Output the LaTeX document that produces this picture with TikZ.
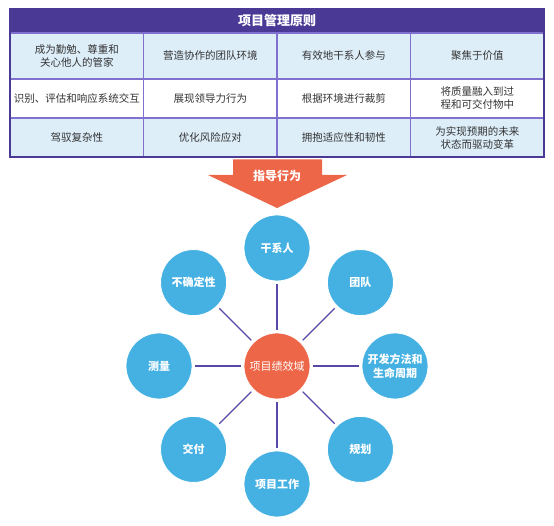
\documentclass[tikz,border=0pt]{standalone}
\usepackage{fontspec}
\setmainfont{Noto Sans CJK SC}
\usepackage{tikz}
\usetikzlibrary{positioning,fit,backgrounds,calc}
\usepackage{xcolor}
\definecolor{headpurple}{RGB}{74,58,150}
\definecolor{gridpurple}{RGB}{128,112,208}
\definecolor{cellblue}{RGB}{221,238,249}
\definecolor{guideorange}{RGB}{238,102,72}
\definecolor{domainblue}{RGB}{69,177,226}
\definecolor{linkpurple}{RGB}{88,72,168}
\definecolor{celltext}{RGB}{51,51,51}

\begin{document}
\begin{tikzpicture}[
    x=1pt, y=1pt,
    cell/.style={rectangle, draw=gridpurple, line width=1.2pt, fill=cellblue,
                 minimum width=133.5pt, minimum height=39pt, inner sep=1pt, outer sep=0pt,
                 align=center, text=celltext, font=\fontsize{10.5}{13}\selectfont},
    tallcell/.style={cell, minimum height=46pt},
    whitecell/.style={cell, fill=white},
    domaincircle/.style={circle, draw=white, line width=0.8pt, fill=domainblue,
                   minimum size=66pt, inner sep=0pt, align=center, text=white,
                   font=\fontsize{11}{14}\selectfont\bfseries},
    corecircle/.style={domaincircle, fill=guideorange, font=\fontsize{11}{14}\selectfont},
    link/.style={line width=1.3pt, draw=linkpurple, shorten <=3pt, shorten >=3pt}
]
\useasboundingbox (0,0) rectangle (554,526);

% Title bar
\node[rectangle, fill=headpurple, minimum width=534pt, minimum height=24pt,
      inner sep=0pt, outer sep=0pt, anchor=north west, text=white,
      font=\fontsize{13}{15}\selectfont\bfseries] (title) at (10,517) {项目管理原则};

% Principles, row 1
\node[tallcell, anchor=north west] (p11) at (title.south west) {成为勤勉、尊重和\\关心他人的管家};
\node[tallcell, right=0pt of p11] (p12) {营造协作的团队环境};
\node[tallcell, right=0pt of p12] (p13) {有效地干系人参与};
\node[tallcell, right=0pt of p13] (p14) {聚焦于价值};

% Principles, row 2
\node[whitecell, below=0pt of p11] (p21) {识别、评估和响应系统交互};
\node[whitecell, below=0pt of p12] (p22) {展现领导力行为};
\node[whitecell, below=0pt of p13] (p23) {根据环境进行裁剪};
\node[whitecell, below=0pt of p14] (p24) {将质量融入到过\\程和可交付物中};

% Principles, row 3
\node[cell, below=0pt of p21] (p31) {驾驭复杂性};
\node[cell, below=0pt of p22] (p32) {优化风险应对};
\node[cell, below=0pt of p23] (p33) {拥抱适应性和韧性};
\node[cell, below=0pt of p24] (p34) {为实现预期的未来\\状态而驱动变革};

% Outer frame
\node[draw=headpurple, line width=2.2pt, inner sep=0pt, outer sep=0pt,
      fit=(title)(p34)(p31)] (frame) {};

% Guiding arrow
\fill[guideorange] (233,366.5) -- (322,366.5) -- (322,351) -- (347,351)
    -- (277,318) -- (208,351) -- (233,351) -- cycle;
\node[text=white, font=\fontsize{12}{14}\selectfont\bfseries] (guide) at (277,350) {指导行为};

% Performance domains
\node[corecircle] (perf) at (277,160) {项目绩效域};
\node[domaincircle] (stake) at ($(perf)+(90:118)$) {干系人};
\node[domaincircle] (team) at ($(perf)+(45:118)$) {团队};
\node[domaincircle] (life) at ($(perf)+(0:118)$) {开发方法和\\生命周期};
\node[domaincircle] (plan) at ($(perf)+(-45:118)$) {规划};
\node[domaincircle] (work) at ($(perf)+(-90:118)$) {项目工作};
\node[domaincircle] (deliv) at ($(perf)+(-135:118)$) {交付};
\node[domaincircle] (meas) at ($(perf)+(180:118)$) {测量};
\node[domaincircle] (uncert) at ($(perf)+(135:118)$) {不确定性};

% Links
\draw[link] (perf) -- (stake);
\draw[link] (perf) -- (team);
\draw[link] (perf) -- (life);
\draw[link] (perf) -- (plan);
\draw[link] (perf) -- (work);
\draw[link] (perf) -- (deliv);
\draw[link] (perf) -- (meas);
\draw[link] (perf) -- (uncert);

\end{tikzpicture}
\end{document}
